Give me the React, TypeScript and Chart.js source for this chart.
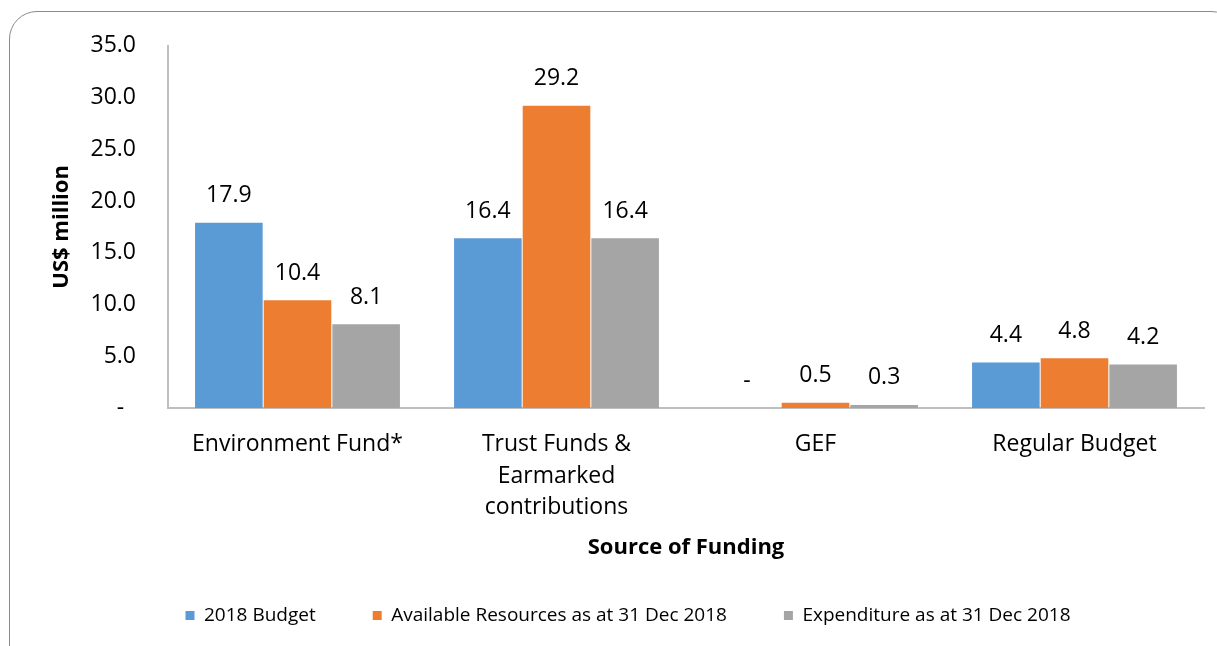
import React, { useEffect, useRef } from 'react';
import { Chart, registerables } from 'chart.js';

Chart.register(...registerables);

const categories: (string | string[])[] = [
  'Environment Fund*',
  ['Trust Funds &', 'Earmarked', 'contributions'],
  'GEF',
  'Regular Budget',
];
const seriesNames = [
  '2018 Budget',
  'Available Resources as at 31 Dec 2018',
  'Expenditure as at 31 Dec 2018',
];
const budget2018 = [17.9, 16.4, 0, 4.4];
const availableResources = [10.4, 29.2, 0.5, 4.8];
const expenditure = [8.1, 16.4, 0.3, 4.2];
const seriesColors = ['#5B9BD5', '#ED7D31', '#A5A5A5'];
const yMin = 0;
const yMax = 35;
const yStep = 5;
const yTitle = 'US$ million';
const xTitle = 'Source of Funding';

const FONT = '"Open Sans", "DejaVu Sans", sans-serif';

const fmt = (v: number) => (v === 0 ? '-' : v.toFixed(1));

const dataLabels = {
  id: 'dataLabels',
  afterDatasetsDraw(chart: any) {
    const ctx = chart.ctx;
    ctx.save();
    ctx.font = `23px ${FONT}`;
    ctx.fillStyle = '#000';
    ctx.textAlign = 'center';
    ctx.textBaseline = 'middle';
    chart.data.datasets.forEach((ds: any, di: number) => {
      const meta = chart.getDatasetMeta(di);
      meta.data.forEach((el: any, i: number) => {
        const v = ds.data[i] as number;
        ctx.fillText(fmt(v), el.x, el.y - 27);
      });
    });
    ctx.restore();
  },
};

export default function App() {
  const ref = useRef<HTMLCanvasElement | null>(null);

  useEffect(() => {
    let chart: Chart | null = null;
    let cancelled = false;
    const make = () => {
      if (cancelled || !ref.current) return;
      chart = new Chart(ref.current, {
        type: 'bar',
        data: {
          labels: categories as any,
          datasets: [budget2018, availableResources, expenditure].map((d, i) => ({
            label: seriesNames[i],
            data: d,
            backgroundColor: seriesColors[i],
            borderWidth: 0,
            categoryPercentage: 0.795,
            barPercentage: 0.985,
          })),
        },
        options: {
          responsive: false,
          animation: false,
          devicePixelRatio: 1,
          layout: { padding: { top: 42, left: 52, right: 13, bottom: 11 } },
          plugins: {
            tooltip: { enabled: false },
            legend: {
              position: 'bottom',
              labels: {
                font: { family: FONT, size: 19 },
                color: '#000',
                boxWidth: 9,
                boxHeight: 9,
                padding: 57,
              },
            },
          },
          scales: {
            x: {
              grid: { display: false, drawTicks: false },
              border: { display: true, color: '#bfbfbf', width: 2 },
              ticks: {
                font: { family: FONT, size: 23, lineHeight: 1.39 },
                color: '#000',
                padding: 20,
                maxRotation: 0,
                autoSkip: false,
              },
              title: {
                display: true,
                text: xTitle,
                color: '#000',
                font: { family: FONT, size: 22, weight: 'bold' },
                padding: { top: 0, bottom: -12 },
              },
              afterFit: (s: any) => {
                s.height = 141;
              },
            },
            y: {
              min: yMin,
              max: yMax,
              grid: { display: false, drawTicks: false },
              border: { display: true, color: '#bfbfbf', width: 2 },
              ticks: {
                stepSize: yStep,
                font: { family: FONT, size: 23 },
                color: '#000',
                padding: 32,
                callback: (v: any) => (Number(v) === 0 ? '-  ' : Number(v).toFixed(1)),
              },
              title: {
                display: true,
                text: yTitle,
                color: '#000',
                font: { family: FONT, size: 22, weight: 'bold' },
                padding: { top: -3, bottom: 0 },
              },
              afterFit: (s: any) => {
                s.width = 116;
              },
            },
          },
        },
        plugins: [dataLabels],
      } as any);
    };
    const fonts = (document as any).fonts;
    if (fonts && fonts.load) {
      Promise.all([
        fonts.load(`23px "Open Sans"`),
        fonts.load(`bold 22px "Open Sans"`),
      ]).then(make, make);
    } else {
      make();
    }
    return () => {
      cancelled = true;
      if (chart) chart.destroy();
    };
  }, []);

  return (
    <div
      style={{
        position: 'fixed',
        left: 0,
        top: 0,
        width: 1217,
        height: 646,
        overflow: 'hidden',
        background: '#fff',
      }}
    >
      <div
        style={{
          position: 'absolute',
          left: 9,
          top: 11,
          width: 1230,
          height: 700,
          border: '1.5px solid #8a8a8a',
          borderRadius: 28,
          boxSizing: 'border-box',
        }}
      />
      <canvas
        ref={ref}
        width={1217}
        height={646}
        style={{ position: 'absolute', left: 0, top: 0, width: 1217, height: 646 }}
      />
    </div>
  );
}
